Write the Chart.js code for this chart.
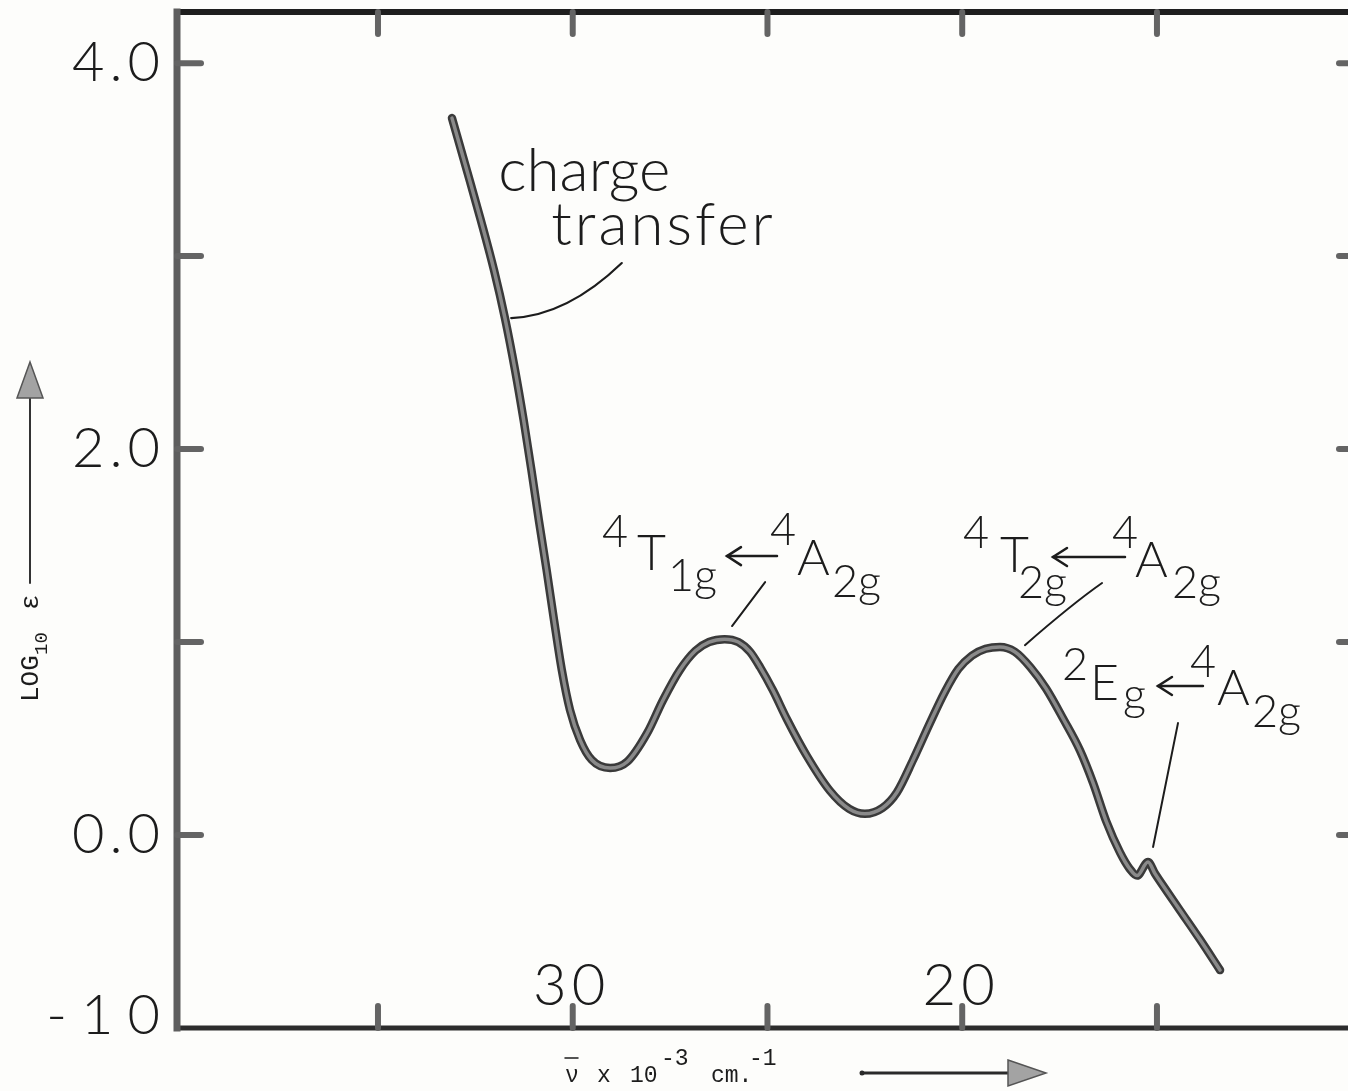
<!DOCTYPE html>
<html>
<head>
<meta charset="utf-8">
<title>log10 epsilon spectrum</title>
<script src="https://cdn.jsdelivr.net/npm/chart.js@4.4.0/dist/chart.umd.min.js"></script>
<style>
  html, body { margin: 0; padding: 0; overflow: hidden; background: #fdfdfb; }
  #wrap { width: 1375px; height: 1091px; }
</style>
</head>
<body>
<div id="wrap"><canvas id="spectrum" width="1375" height="1091"></canvas></div>
<script>
// wave number (x 10^3 cm^-1) and log10 epsilon
const waveNumber = [33.10, 32.72, 32.36, 32.02, 31.74, 31.48, 31.26, 31.06, 30.87, 30.67,
  30.48, 30.28, 30.07, 29.81, 29.51, 29.04, 28.60, 28.09, 27.68, 27.25,
  26.85, 26.50, 26.10, 25.75, 25.45, 25.19, 24.86, 24.50, 23.99, 23.40,
  22.90, 22.50, 22.05, 21.68, 21.26, 20.83, 20.45, 20.10, 19.75, 19.40,
  19.03, 18.65, 18.25, 17.85, 17.40, 16.98, 16.64, 16.30, 15.95, 15.70,
  15.51, 15.23, 15.05, 14.75, 14.41, 13.90, 13.38];
const logEpsilon = [3.715, 3.446, 3.187, 2.927, 2.679, 2.409, 2.15, 1.891, 1.632, 1.373,
  1.114, 0.855, 0.648, 0.492, 0.389, 0.347, 0.38, 0.528, 0.70, 0.855,
  0.955, 1.00, 1.015, 1.00, 0.95, 0.87, 0.75, 0.60, 0.41, 0.23,
  0.135, 0.11, 0.14, 0.22, 0.39, 0.58, 0.74, 0.86, 0.93, 0.965,
  0.975, 0.95, 0.87, 0.76, 0.60, 0.44, 0.27, 0.07, -0.09, -0.175,
  -0.21, -0.14, -0.20, -0.29, -0.39, -0.54, -0.70];

const xTickValues = [35, 30, 25, 20, 15];
const xTickLabels = ['', '30', '', '20', ''];
const yTickValues = [4, 3, 2, 1, 0, -1];
const yTickLabels = ['4.0', '', '2.0', '', '0.0', '-10'];

const LETTER = 'Lato';
const TYPE = '"Liberation Mono", "Courier New", monospace';

function seg(ctx, x1, y1, x2, y2) {
  ctx.beginPath();
  ctx.moveTo(x1, y1);
  ctx.lineTo(x2, y2);
  ctx.stroke();
}

// open arrow pointing left, like the hand lettered ones
function leftArrow(ctx, x1, x2, y) {
  ctx.lineWidth = 2.5;
  seg(ctx, x1, y, x2, y);
  ctx.beginPath();
  ctx.moveTo(x1 + 14, y - 9);
  ctx.lineTo(x1, y);
  ctx.lineTo(x1 + 14, y + 9);
  ctx.stroke();
}

// transition labels: anchor in data units, pieces offset in px
const transitions = [
  { at: [28.35, 1.373], parts: [['4', -35, -23, 's'], ['T', 0, 0, 'b'], ['1g', 31, 21, 's'],
      ['>', 90, 140, -14], ['4', 133, -25, 's'], ['A', 160, 5, 'b'], ['2g', 195, 27, 's']] },
  { at: [19.03, 1.363], parts: [['4', -37, -24, 's'], ['T', 0, 0, 'b'], ['2g', 18, 26, 's'],
      ['>', 53, 125, -15], ['4', 112, -24, 's'], ['A', 135, 5, 'b'], ['2g', 172, 26, 's']] },
  { at: [16.72, 0.70], parts: [['2', -28, -20, 's'], ['E', 0, 0, 'b'], ['g', 33, 10, 's'],
      ['>', 68, 113, -14], ['4', 100, -23, 's'], ['A', 127, 5, 'b'], ['2g', 162, 27, 's']] }
];

const framePlugin = {
  id: 'frame',
  afterDraw(chart) {
    const { ctx, chartArea: a, scales } = chart;
    const xs = scales.x, ys = scales.y;
    const X = v => xs.getPixelForValue(v);
    const Y = v => ys.getPixelForValue(v);
    ctx.save();

    // frame
    ctx.lineCap = 'square';
    ctx.strokeStyle = '#1e1e1e';
    ctx.lineWidth = 6;
    seg(ctx, a.left, a.top, a.right, a.top);
    ctx.lineWidth = 5;
    ctx.strokeStyle = '#2c2c2c';
    seg(ctx, a.left, a.bottom, a.right, a.bottom);
    seg(ctx, a.right, a.top, a.right, a.bottom);
    ctx.strokeStyle = '#5e5e5e';
    ctx.lineWidth = 7;
    seg(ctx, a.left, a.top, a.left, a.bottom);

    // inward tick marks
    ctx.lineCap = 'round';
    ctx.strokeStyle = '#646464';
    ctx.lineWidth = 6;
    xTickValues.forEach(v => {
      seg(ctx, X(v), a.top, X(v), a.top + 22);
      seg(ctx, X(v), a.bottom, X(v), a.bottom - 22);
    });
    yTickValues.filter(v => v > ys.min).forEach(v => {
      seg(ctx, a.left, Y(v), a.left + 24, Y(v));
      seg(ctx, a.right, Y(v), a.right - 24, Y(v));
    });

    // y tick labels, left of the frame
    ctx.fillStyle = '#1c1c1c';
    ctx.font = '300 56px ' + LETTER;
    ctx.textAlign = 'right';
    ctx.textBaseline = 'middle';
    yTickValues.forEach((v, i) => {
      const t = yTickLabels[i];
      if (!t) return;
      const sp = t.startsWith('-') ? 14 : 5;
      ctx.letterSpacing = sp + 'px';
      ctx.fillText(t, a.left - 17 + sp, Math.min(Y(v), a.bottom - 12));
    });

    // x tick labels sit inside the frame
    ctx.letterSpacing = '5px';
    ctx.font = '300 58px ' + LETTER;
    ctx.textAlign = 'center';
    ctx.textBaseline = 'alphabetic';
    xTickValues.forEach((v, i) => {
      if (xTickLabels[i]) ctx.fillText(xTickLabels[i], X(v) - 1, a.bottom - 23);
    });
    ctx.letterSpacing = '0px';

    // y axis title, rotated, with arrow
    ctx.save();
    ctx.translate(38, 702);
    ctx.rotate(-Math.PI / 2);
    ctx.textAlign = 'left';
    ctx.font = '26px ' + TYPE;
    ctx.fillText('LOG', 0, 0);
    ctx.font = '19px ' + TYPE;
    ctx.fillText('10', 47, 9);
    ctx.font = '26px ' + TYPE;
    ctx.fillText('\u03b5', 92, 0);
    ctx.restore();

    ctx.strokeStyle = '#333';
    ctx.lineWidth = 2;
    ctx.lineCap = 'round';
    seg(ctx, 30, 583, 30, 396);
    ctx.beginPath();
    ctx.moveTo(30, 362); ctx.lineTo(43, 398); ctx.lineTo(17, 398); ctx.closePath();
    ctx.fillStyle = '#a3a3a3';
    ctx.fill();
    ctx.strokeStyle = '#555';
    ctx.lineWidth = 1.5;
    ctx.stroke();

    // x axis title
    ctx.fillStyle = '#1c1c1c';
    ctx.textAlign = 'left';
    ctx.font = '23px ' + TYPE;
    ctx.fillText('\u03bd', 565, 1082);
    ctx.fillText('x', 597, 1082);
    ctx.fillText('10', 630, 1082);
    ctx.fillText('cm.', 711, 1082);
    ctx.fillText('-3', 661, 1065);
    ctx.fillText('-1', 749, 1065);
    ctx.strokeStyle = '#1c1c1c';
    ctx.lineWidth = 1.5;
    seg(ctx, 565, 1058, 578, 1058);

    ctx.strokeStyle = '#2a2a2a';
    ctx.lineWidth = 3;
    seg(ctx, 862, 1073, 1010, 1073);
    ctx.beginPath();
    ctx.arc(862, 1073, 2.5, 0, Math.PI * 2);
    ctx.fillStyle = '#2a2a2a';
    ctx.fill();
    ctx.beginPath();
    ctx.moveTo(1008, 1060); ctx.lineTo(1046, 1073); ctx.lineTo(1008, 1086); ctx.closePath();
    ctx.fillStyle = '#a3a3a3';
    ctx.fill();
    ctx.strokeStyle = '#555';
    ctx.lineWidth = 1.5;
    ctx.stroke();

    // charge transfer note
    ctx.fillStyle = '#1c1c1c';
    ctx.font = '300 60px ' + LETTER;
    ctx.fillText('charge', X(31.91), Y(3.336));
    ctx.letterSpacing = '3px';
    ctx.fillText('transfer', X(30.55), Y(3.06));
    ctx.letterSpacing = '0px';
    ctx.strokeStyle = '#1c1c1c';
    ctx.lineWidth = 2.2;
    ctx.beginPath();
    ctx.moveTo(X(28.74), Y(2.964));
    ctx.quadraticCurveTo(X(30.15), Y(2.69), X(31.58), Y(2.679));
    ctx.stroke();

    // transition labels
    transitions.forEach(t => {
      const ox = X(t.at[0]), oy = Y(t.at[1]);
      t.parts.forEach(p => {
        if (p[0] === '>') {
          ctx.strokeStyle = '#1c1c1c';
          leftArrow(ctx, ox + p[1], ox + p[2], oy + p[3]);
          return;
        }
        ctx.font = (p[3] === 'b' ? '300 50px ' : '300 45px ') + LETTER;
        ctx.fillText(p[0], ox + p[1], oy + p[2]);
      });
    });

    // leader lines to the bands
    ctx.strokeStyle = '#1c1c1c';
    ctx.lineWidth = 2;
    seg(ctx, X(25.06), Y(1.311), X(25.91), Y(1.083));
    ctx.beginPath();
    ctx.moveTo(X(16.41), Y(1.306));
    ctx.quadraticCurveTo(X(17.18), Y(1.197), X(18.39), Y(0.984));
    ctx.stroke();
    seg(ctx, X(14.46), Y(0.58), X(15.10), Y(-0.062));

    ctx.restore();
  }
};

const points = waveNumber.map((x, i) => ({ x: x, y: logEpsilon[i] }));

new Chart(document.getElementById('spectrum'), {
  type: 'line',
  data: {
    datasets: [
      // first dataset is painted last, so the light core goes first
      { data: points, borderColor: '#8a8a8a', borderWidth: 3.5, pointRadius: 0,
        cubicInterpolationMode: 'monotone', borderCapStyle: 'round', borderJoinStyle: 'round' },
      { data: points, borderColor: '#3a3a3a', borderWidth: 8.5, pointRadius: 0,
        cubicInterpolationMode: 'monotone', borderCapStyle: 'round', borderJoinStyle: 'round' }
    ]
  },
  options: {
    responsive: false,
    animation: false,
    devicePixelRatio: 1,
    layout: { padding: { top: 12, right: 12, bottom: 63, left: 177 } },
    plugins: { legend: { display: false }, tooltip: { enabled: false } },
    scales: {
      x: { type: 'linear', reverse: true, min: 9.71, max: 40.16, display: false },
      y: { type: 'linear', min: -1, max: 4.265, display: false }
    }
  },
  plugins: [framePlugin]
});
</script>
</body>
</html>
